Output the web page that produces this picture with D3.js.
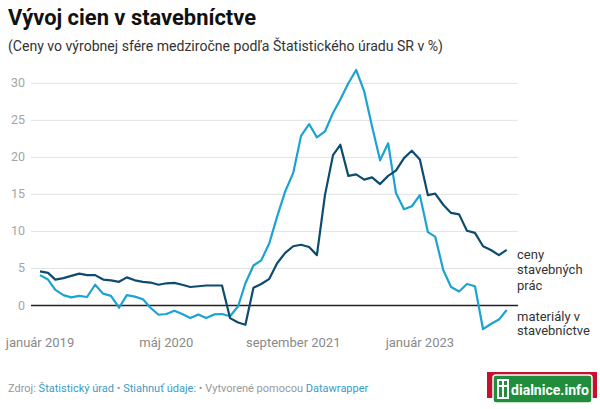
<!DOCTYPE html>
<html><head><meta charset="utf-8">
<script src="https://cdn.jsdelivr.net/npm/d3@7"></script>
<style>
html,body{margin:0;padding:0;background:#fff;}
svg{display:block;font-family:Roboto,"Noto Sans",sans-serif;}
</style></head>
<body>
<svg id="chart" width="600" height="409"></svg>
<script>
const months = d3.range(60).map(i => new Date(2019, i, 1));
const prace = [4.6,4.4,3.5,3.7,4.0,4.3,4.1,4.1,3.5,3.4,3.2,3.8,3.4,3.2,3.1,2.8,3.0,3.05,2.8,2.5,2.6,2.7,2.7,2.7,
  -1.7,-2.3,-2.6,2.4,2.9,3.6,5.7,7.1,8.0,8.2,7.9,6.8,14.9,20.3,21.7,17.5,17.7,17.0,17.3,16.4,17.5,18.2,19.9,20.9,
  19.7,14.9,15.1,13.6,12.5,12.3,10.1,9.8,8.0,7.5,6.8,7.5];
const materialy = [4.1,3.5,2.1,1.4,1.1,1.3,1.15,2.8,1.6,1.3,-0.3,1.4,1.2,0.85,-0.3,-1.25,-1.15,-0.7,-1.15,-1.7,-1.2,-1.7,-1.2,-1.15,
  -1.45,-0.1,3.0,5.4,6.1,8.4,12.0,15.4,17.9,22.9,24.5,22.7,23.5,26.0,27.8,30.0,31.8,28.9,24.2,19.6,21.9,15.2,13.0,13.4,
  14.9,9.9,9.3,4.8,2.5,1.9,2.9,2.6,-3.2,-2.5,-1.9,-0.6];
const yTicks = [0,5,10,15,20,25,30];
const xTickDates = [new Date(2019,0,1), new Date(2020,4,1), new Date(2021,8,1), new Date(2023,0,1)];
const xTickLabels = ["január 2019","máj 2020","september 2021","január 2023"];
const seriesNames = [["ceny","stavebných","prác"],["materiály v","stavebníctve"]];
const colors = ["#0d4b70","#1ca3d1"];

const svg = d3.select("#chart");
const x = d3.scaleTime().domain([months[0], months[59]]).range([40, 506.7]);
const y = d3.scaleLinear().domain([0, 30]).range([305.5, 83.3]);

svg.append("text").attr("x",8).attr("y",25).attr("font-size",22).attr("font-weight",700)
  .attr("fill","#111").attr("textLength",248).attr("lengthAdjust","spacingAndGlyphs")
  .text("Vývoj cien v stavebníctve");
svg.append("text").attr("x",8).attr("y",51).attr("font-size",14)
  .attr("fill","#333").attr("textLength",435).attr("lengthAdjust","spacingAndGlyphs")
  .text("(Ceny vo výrobnej sfére medziročne podľa Štatistického úradu SR v %)");

// grid
const gx1 = 31, gx2 = 518;
const yAxis = svg.append("g");
yAxis.selectAll("line").data(yTicks).join("line")
  .attr("x1",gx1).attr("x2",gx2).attr("y1",d=>y(d)).attr("y2",d=>y(d))
  .attr("stroke",d=>d===0?"#222":"#e3e3e3").attr("stroke-width",d=>d===0?1.3:1);
yAxis.selectAll("text").data(yTicks).join("text")
  .attr("x",25).attr("y",d=>y(d)+4).attr("text-anchor","end")
  .attr("font-size",12.5).attr("fill","#a5a5a5").text(d=>d);

// x labels
svg.append("g").selectAll("text").data(xTickDates).join("text")
  .attr("x",d=>x(d)).attr("y",347).attr("text-anchor","middle")
  .attr("font-size",13).attr("fill","#8a8a8a").text((d,i)=>xTickLabels[i]);

const line = d3.line().x((d,i)=>x(months[i])).y(d=>y(d));
[materialy, prace].forEach((s,k)=>{
  svg.append("path").datum(s).attr("d",line).attr("fill","none")
    .attr("stroke", k===0?colors[1]:colors[0]).attr("stroke-width",2.2)
    .attr("stroke-linejoin","round");
});

// right labels
const lab = svg.append("g").attr("font-size",13).attr("fill","#333");
seriesNames[0].forEach((t,i)=>lab.append("text").attr("x",517).attr("y",y(prace[59])+9+i*15.5).text(t));
seriesNames[1].forEach((t,i)=>lab.append("text").attr("x",517).attr("y",y(materialy[59])+11+i*14.5).text(t));

// footer
const f = svg.append("text").attr("x",8).attr("y",392).attr("font-size",11);
f.append("tspan").attr("fill","#999").text("Zdroj: ");
f.append("tspan").attr("fill","#3a9cc6").text("Štatistický úrad");
f.append("tspan").attr("fill","#999").text(" • ");
f.append("tspan").attr("fill","#3a9cc6").text("Stiahnuť údaje:");
f.append("tspan").attr("fill","#999").text(" • Vytvorené pomocou ");
f.append("tspan").attr("fill","#3a9cc6").text("Datawrapper");

// logo
const lg = svg.append("g");
lg.append("rect").attr("x",487).attr("y",372).attr("width",110).attr("height",26).attr("fill","#c8102e");
lg.append("rect").attr("x",493).attr("y",375).attr("width",99).attr("height",28).attr("rx",3).attr("fill","#1f8d3b").attr("stroke","#fff").attr("stroke-width",1.5);
lg.append("rect").attr("x",497).attr("y",379).attr("width",12).attr("height",20).attr("fill","#fff");
lg.append("rect").attr("x",499).attr("y",381).attr("width",3).attr("height",16).attr("fill","#1f8d3b");
lg.append("rect").attr("x",504).attr("y",381).attr("width",3).attr("height",16).attr("fill","#1f8d3b");
lg.append("rect").attr("x",497).attr("y",385).attr("width",12).attr("height",2).attr("fill","#fff");
lg.append("text").attr("x",511).attr("y",395).attr("font-size",15).attr("font-weight",700).attr("fill","#fff")
  .attr("textLength",78).attr("lengthAdjust","spacingAndGlyphs").text("dialnice.info");
</script>
</body></html>
